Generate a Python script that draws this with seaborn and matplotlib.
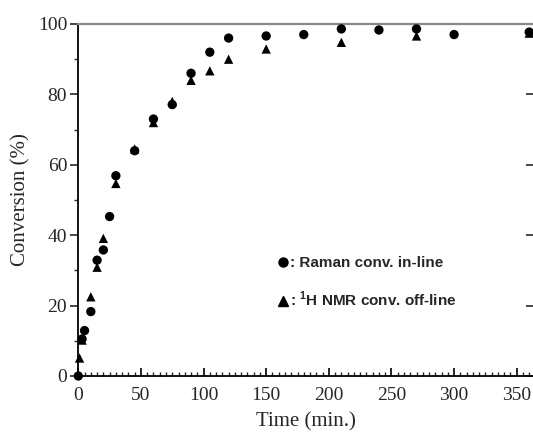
import matplotlib
matplotlib.use("Agg")
import matplotlib.pyplot as plt
from matplotlib.ticker import MultipleLocator
from matplotlib.lines import Line2D
import seaborn as sns
import pandas as pd

raman_time = [0, 3, 5, 10, 15, 20, 25, 30, 45, 60, 75, 90, 105, 120, 150, 180, 210, 240, 270, 300, 360]
raman_conv = [0, 10.5, 12.9, 18.3, 32.9, 35.8, 45.3, 56.9, 64.0, 73.0, 77.1, 86.0, 92.0, 96.0, 96.6, 97.0, 98.6, 98.3, 98.6, 97.0, 97.7]
nmr_time = [1, 3, 10, 15, 20, 30, 45, 60, 75, 90, 105, 120, 150, 210, 270, 360]
nmr_conv = [5.1, 10.2, 22.5, 30.9, 39.1, 54.7, 64.5, 72.0, 78.0, 84.0, 86.7, 90.0, 92.9, 94.8, 96.6, 97.4]
legend_labels = [": Raman conv. in-line", r": $^{\mathbf{1}}$H NMR conv. off-line"]

df = pd.concat([
    pd.DataFrame({"time": raman_time, "conv": raman_conv, "method": "Raman"}),
    pd.DataFrame({"time": nmr_time, "conv": nmr_conv, "method": "NMR"}),
])

sns.set_style("ticks")
plt.rcParams["font.family"] = ["Liberation Serif", "DejaVu Serif"]
plt.rcParams["mathtext.fontset"] = "custom"
plt.rcParams["mathtext.rm"] = "Liberation Sans"
plt.rcParams["mathtext.bf"] = "Liberation Sans:bold"

fig = plt.figure(figsize=(5.33, 4.37), dpi=100)
ax = fig.add_axes([78.3 / 533, 1 - 376 / 437, 1 - 78.3 / 533, (376 - 24) / 437])

sns.scatterplot(data=df, x="time", y="conv", style="method",
                markers={"Raman": "o", "NMR": "^"}, color="black",
                s=45, edgecolor="black", linewidth=0, ax=ax, legend=False,
                clip_on=False, zorder=5)

ax.set_xlim(0, 363)
ax.set_ylim(0, 100)
ax.xaxis.set_major_locator(MultipleLocator(50))
ax.xaxis.set_minor_locator(MultipleLocator(5))
ax.yaxis.set_major_locator(MultipleLocator(20))
ax.yaxis.set_minor_locator(MultipleLocator(10))

ax.tick_params(axis="x", which="major", direction="in", length=6, width=1.2,
               labelsize=14, pad=8, color="black")
ax.tick_params(axis="x", which="minor", direction="in", length=3, width=1.0)
ax.tick_params(axis="y", which="major", direction="out", length=6, width=1.2,
               labelsize=14, pad=2)
ax.tick_params(axis="y", which="minor", direction="out", length=3, width=1.0)
ax.tick_params(axis="y", which="major", right=True)
for t in ax.yaxis.get_major_ticks():
    t.tick2line.set_marker(matplotlib.markers.TICKLEFT)
    t.tick2line.set_markersize(5)

for side in ["left", "bottom"]:
    ax.spines[side].set_linewidth(1.3)
    ax.spines[side].set_color("black")
ax.spines["right"].set_visible(False)
ax.spines["top"].set_color("#888888")
ax.spines["top"].set_linewidth(1.6)

ax.set_xlabel("Time (min.)", fontsize=15, labelpad=6)
ax.set_ylabel("Conversion (%)", fontsize=15, labelpad=5)

handles = [Line2D([], [], marker="o", color="black", linestyle="none", markersize=6.5),
           Line2D([], [], marker="^", color="black", linestyle="none", markersize=6.5)]
leg = ax.legend(handles, legend_labels, loc="upper left",
                bbox_to_anchor=((269 - 78.3) / (533 - 78.3), (376 - 250) / 352),
                frameon=False, handletextpad=0.0, handlelength=1.0,
                labelspacing=1.3, borderaxespad=0,
                prop={"family": "Liberation Sans", "weight": "bold", "size": 11})

fig.savefig("out.png", dpi=100)
